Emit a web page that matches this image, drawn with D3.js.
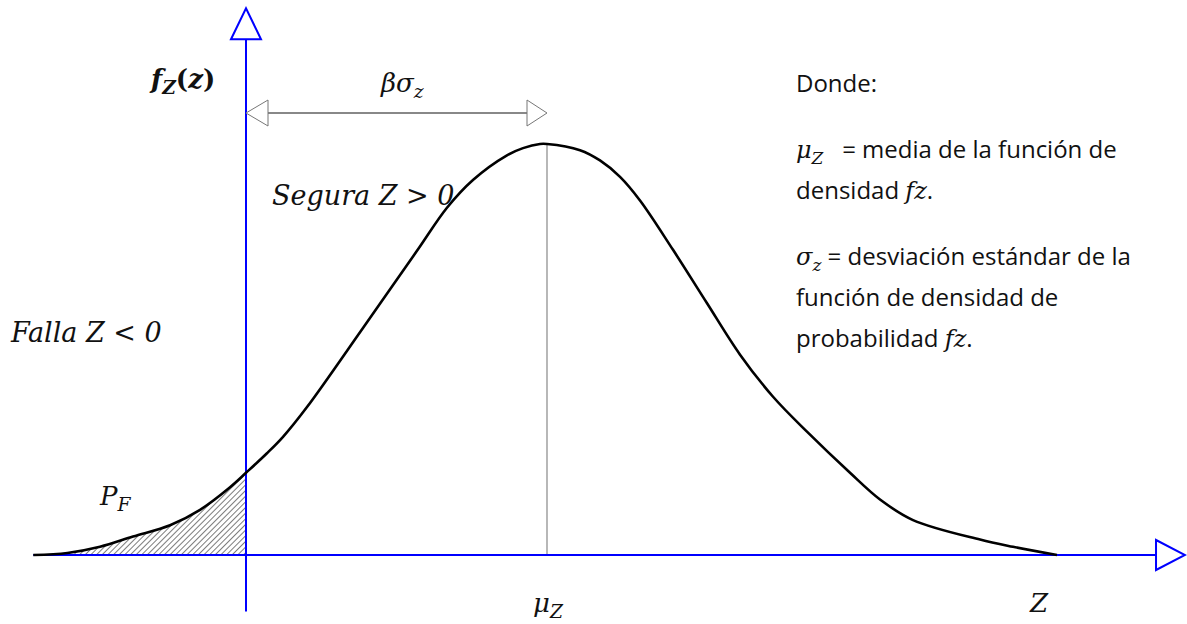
<!DOCTYPE html>
<html>
<head>
<meta charset="utf-8">
<script src="https://cdn.jsdelivr.net/npm/d3@7"></script>
<style>
  html, body { margin: 0; padding: 0; background: #fff; }
  svg { display: block; }
  .math { font-family: "DejaVu Serif", serif; font-style: italic; }
  .note { font-family: "Open Sans", sans-serif; font-size: 24px; fill: #111; }
</style>
</head>
<body>
<div id="chart"></div>
<script>
"use strict";

// density curve (z in units of sigma, mean at 3)
const zVals = [-2.12, -1.78, -1.455, -1.126, -0.757, -0.458, -0.159, 0, 0.209, 0.369, 0.608,
    1.166, 1.704, 2.003, 2.262, 2.601, 2.761, 2.93, 3, 3.329, 3.528, 3.728, 3.927, 4.256, 4.595,
    4.924, 5.253, 5.591, 6.02, 6.319, 6.648, 7.316, 7.645, 8.083];
const fVals = [0, 0.002, 0.008, 0.018, 0.029, 0.044, 0.066, 0.080, 0.099, 0.115, 0.144,
    0.221, 0.296, 0.338, 0.365, 0.389, 0.396, 0.400, 0.400, 0.394, 0.384, 0.368, 0.345, 0.297, 0.245,
    0.195, 0.154, 0.120, 0.080, 0.054, 0.034, 0.015, 0.008, 0];

const meanZ = 3;          // mu_Z
const betaSigma = [0, 3]; // extent of the beta*sigma arrow
const xAxisExtent = [-2.12, 9.07];
const yAxisExtent = [-0.055, 0.502];

const noteLines = [
    [{t: "Donde:"}],
    [{t: "μ", m: true}, {t: "Z", m: true, sub: true}, {t: "   = media de la función de"}],
    [{t: "densidad "}, {t: "fz", m: true}, {t: "."}],
    [{t: "σ", m: true}, {t: "z", m: true, sub: true}, {t: " = desviación estándar de la"}],
    [{t: "función de densidad de"}],
    [{t: "probabilidad "}, {t: "fz", m: true}, {t: "."}],
];
const noteBaselines = [92, 158, 199, 265, 306, 347];

const W = 1187, H = 624;
const data = zVals.map((z, i) => ({z: z, f: fVals[i]}));

const x = d3.scaleLinear().domain([0, 3]).range([246, 547]);
const y = d3.scaleLinear().domain([0, 0.4]).range([555, 144]);

const svg = d3.select("#chart").append("svg")
    .attr("width", W)
    .attr("height", H);

const defs = svg.append("defs");
defs.append("pattern")
    .attr("id", "hatch")
    .attr("patternUnits", "userSpaceOnUse")
    .attr("width", 4)
    .attr("height", 4)
    .attr("patternTransform", "rotate(45)")
    .append("line")
    .attr("x1", 0).attr("y1", -1)
    .attr("x2", 0).attr("y2", 5)
    .attr("stroke", "#222")
    .attr("stroke-width", 1.2);

const curve = d3.curveCatmullRom.alpha(0.5);

// hatched failure area
const area = d3.area()
    .x(d => x(d.z))
    .y0(y(0))
    .y1(d => y(d.f))
    .curve(curve);

svg.append("path")
    .datum(data.filter(d => d.z <= 0))
    .attr("d", area)
    .attr("fill", "url(#hatch)");

// mean line
svg.append("line")
    .attr("x1", x(meanZ)).attr("x2", x(meanZ))
    .attr("y1", y(d3.max(fVals))).attr("y2", y(0))
    .attr("stroke", "#888")
    .attr("stroke-width", 1.2);

// axes
const blue = "#0000ff";
svg.append("line")
    .attr("x1", x(xAxisExtent[0])).attr("x2", x(xAxisExtent[1]))
    .attr("y1", y(0)).attr("y2", y(0))
    .attr("stroke", blue).attr("stroke-width", 2);
svg.append("line")
    .attr("x1", x(0)).attr("x2", x(0))
    .attr("y1", y(yAxisExtent[0])).attr("y2", y(yAxisExtent[1]))
    .attr("stroke", blue).attr("stroke-width", 2);

const xe = x(xAxisExtent[1]), y0 = y(0);
svg.append("path")
    .attr("d", `M${xe},${y0 - 15}L${xe + 29},${y0}L${xe},${y0 + 15}Z`)
    .attr("fill", "#fff").attr("stroke", blue).attr("stroke-width", 2);
const ye = y(yAxisExtent[1]), x0 = x(0);
svg.append("path")
    .attr("d", `M${x0 - 15},${ye}L${x0},${ye - 31}L${x0 + 15},${ye}Z`)
    .attr("fill", "#fff").attr("stroke", blue).attr("stroke-width", 2);

// beta sigma arrow
const ay = 113;
const bx0 = x(betaSigma[0]), bx1 = x(betaSigma[1]);
svg.append("line")
    .attr("x1", bx0 + 22).attr("x2", bx1 - 20)
    .attr("y1", ay).attr("y2", ay)
    .attr("stroke", "#888").attr("stroke-width", 2);
svg.append("path")
    .attr("d", `M${bx0 + 22},${ay - 13}L${bx0},${ay}L${bx0 + 22},${ay + 13}Z`)
    .attr("fill", "#fff").attr("stroke", "#777").attr("stroke-width", 1);
svg.append("path")
    .attr("d", `M${bx1 - 20},${ay - 13}L${bx1},${ay}L${bx1 - 20},${ay + 13}Z`)
    .attr("fill", "#fff").attr("stroke", "#777").attr("stroke-width", 1);

// density curve
const line = d3.line()
    .x(d => x(d.z))
    .y(d => y(d.f))
    .curve(curve);

svg.append("path")
    .datum(data)
    .attr("d", line)
    .attr("fill", "none")
    .attr("stroke", "#000")
    .attr("stroke-width", 2.6);

// math labels
function mathLabel(px, py, size, parts) {
    const t = svg.append("text")
        .attr("class", "math")
        .attr("x", px).attr("y", py)
        .attr("font-size", size)
        .attr("fill", "#111")
        .attr("xml:space", "preserve");
    let shifted = 0;
    parts.forEach(p => {
        const s = t.append("tspan").text(p.t);
        const want = p.sub ? 6 : 0;
        if (want !== shifted) { s.attr("dy", want - shifted); shifted = want; }
        if (p.sub) s.attr("font-size", size * 0.72);
        if (p.bold) s.attr("font-weight", "bold");
        if (p.up) s.attr("font-style", "normal");
    });
    return t;
}

mathLabel(151, 88, 26, [{t: "f", bold: true}, {t: "Z", bold: true, sub: true},
    {t: "(", bold: true, up: true}, {t: "z", bold: true}, {t: ")", bold: true, up: true}]);
mathLabel(381, 92, 26, [{t: "βσ"}, {t: "z", sub: true}]);
mathLabel(272, 205, 27, [{t: "Segura Z > 0"}]);
mathLabel(11, 342, 27, [{t: "Falla Z < 0"}]);
mathLabel(100, 505, 26, [{t: "P"}, {t: "F", sub: true}]);
mathLabel(x(meanZ) - 14, 612, 26, [{t: "μ"}, {t: "Z", sub: true}]);
mathLabel(1030, 612, 26, [{t: "Z"}]);

// explanatory notes
noteLines.forEach((parts, i) => {
    const t = svg.append("text")
        .attr("class", "note")
        .attr("x", 796)
        .attr("y", noteBaselines[i])
        .attr("xml:space", "preserve");
    let shifted = 0;
    parts.forEach(p => {
        const s = t.append("tspan").text(p.t);
        const want = p.sub ? 6 : 0;
        if (want !== shifted) { s.attr("dy", want - shifted); shifted = want; }
        if (p.m) s.attr("font-family", "DejaVu Serif, serif").attr("font-style", "italic");
        if (p.sub) s.attr("font-size", 17);
    });
});
</script>
</body>
</html>
